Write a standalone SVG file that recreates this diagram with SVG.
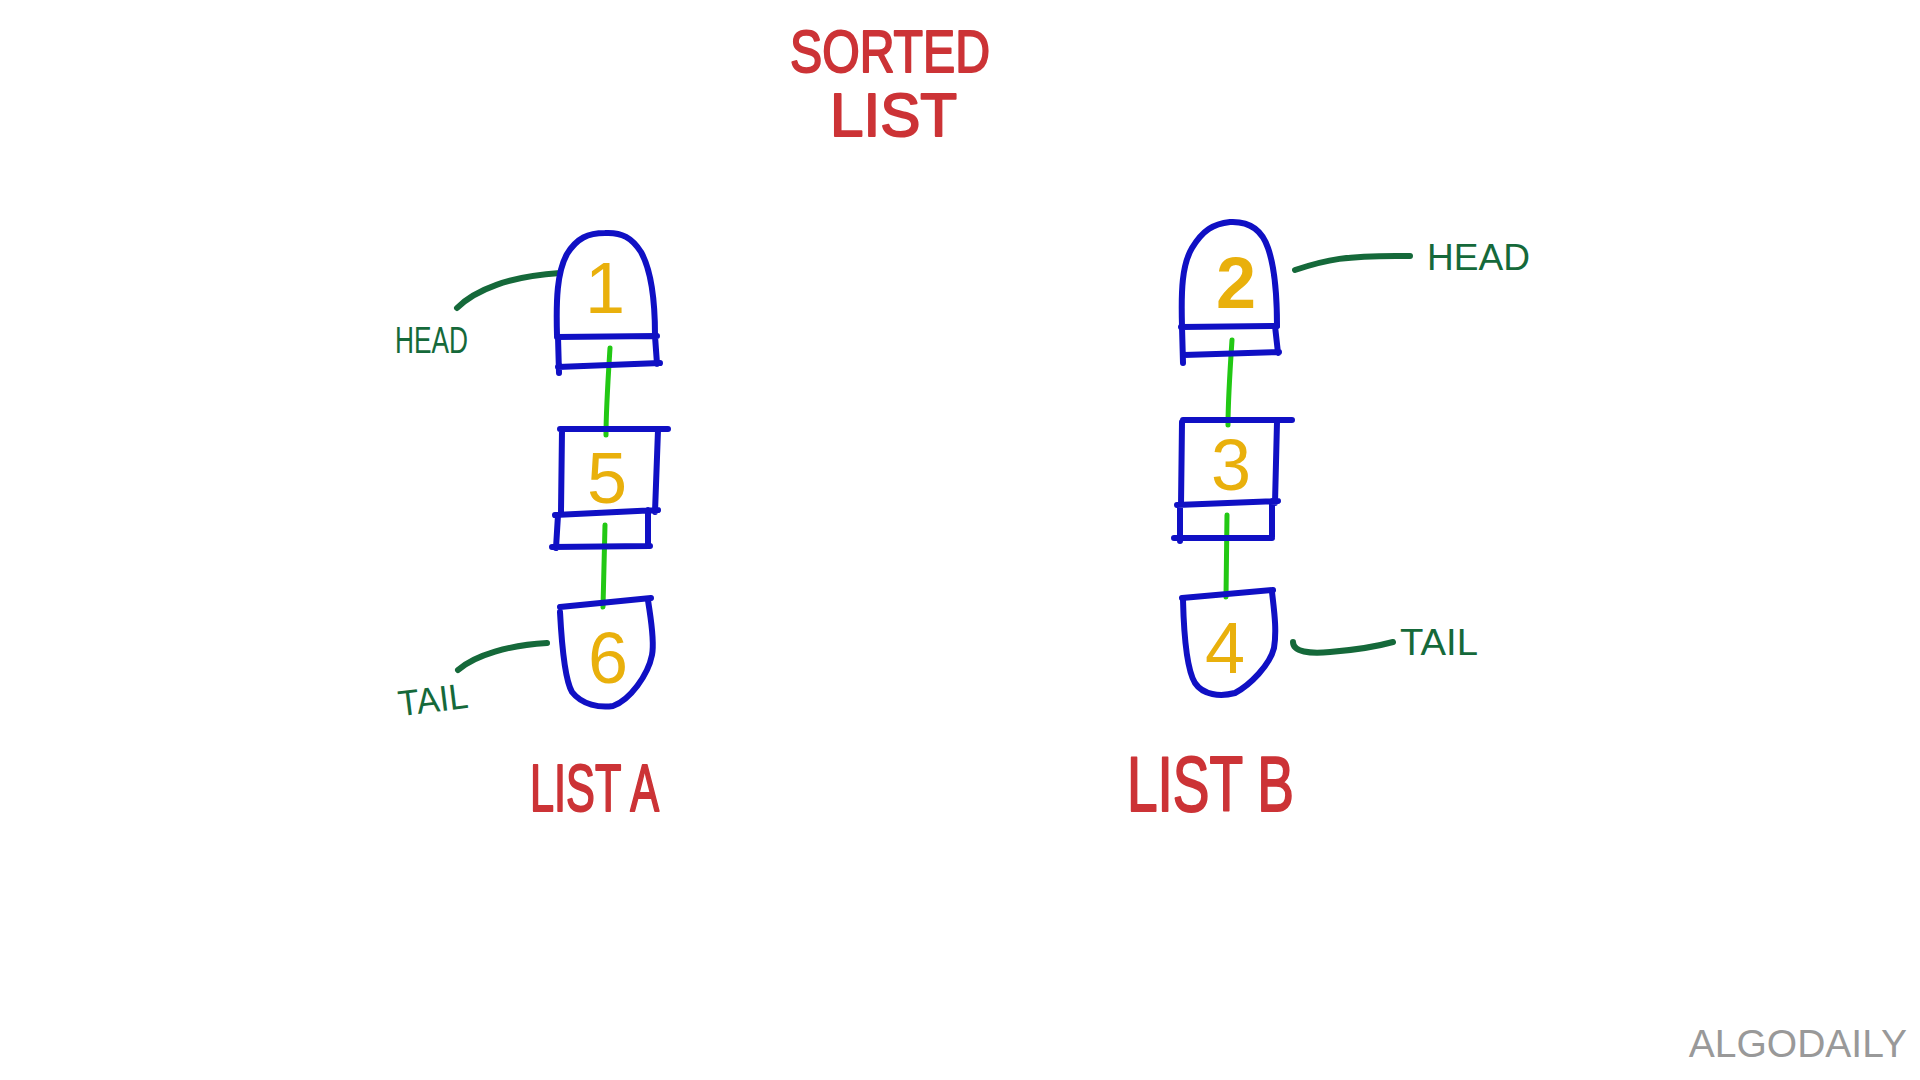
<svg xmlns="http://www.w3.org/2000/svg" width="1920" height="1080" viewBox="0 0 1920 1080">
<style>
.node{fill:none;stroke:#1010C4;stroke-width:6;stroke-linecap:round;stroke-linejoin:round}
.link{fill:none;stroke:#22C814;stroke-width:5;stroke-linecap:round}
.lead{fill:none;stroke:#15693A;stroke-width:6;stroke-linecap:round}
.num{font-family:"Liberation Sans",Arial,sans-serif;fill:#E9B00C;font-size:72px;text-anchor:middle}
.green{font-family:"Liberation Sans",Arial,sans-serif;fill:#15693A;font-size:36px}
.red{font-family:"Liberation Sans",Arial,sans-serif;fill:#CC3336;stroke:#CC3336;stroke-width:2;stroke-linejoin:round}
.logo{font-family:"Liberation Sans",Arial,sans-serif;fill:#999999;font-size:39px;text-anchor:end}
</style>
<rect width="1920" height="1080" fill="#ffffff"/>
<g id="title">
<text class="red" x="790" y="72" font-size="60" textLength="200" lengthAdjust="spacingAndGlyphs">SORTED</text>
<text class="red" x="830" y="136" font-size="62" textLength="127" lengthAdjust="spacingAndGlyphs">LIST</text>
</g>
<g id="connectors">
<path class="link" d="M610,348 C608,380 606,410 606,435"/>
<path class="link" d="M605,525 L603,607"/>
<path class="link" d="M1232,340 C1230,370 1228,400 1228,425"/>
<path class="link" d="M1227,515 L1226,597"/>
<path class="lead" d="M457,308 C475,290 510,276 560,273"/>
<path class="lead" d="M458,670 C475,655 510,645 547,643"/>
<path class="lead" d="M1295,270 C1325,260 1345,255 1410,256"/>
<path class="lead" d="M1293,642 C1293,652 1310,654 1330,652 C1355,650 1375,647 1393,642"/>
</g>
<g id="nodeA1">
<path class="node" d="M557,335 C556,300 557,272 567,254 C577,238 588,233 605,233 C622,232 632,238 641,252 C651,270 655,300 655,335"/>
<path class="node" d="M557,337 L657,336 M558,337 L559,373 M655,336 L657,364 M558,367 L660,363"/>
<text class="num" x="605" y="313">1</text>
</g>
<g id="nodeA5">
<path class="node" d="M560,429 L668,429 M562,430 L561,512 M658,430 L655,512 M555,515 L658,510 M558,515 L556,548 M648,510 L648,546 M552,547 L650,546"/>
<text class="num" x="607" y="503">5</text>
</g>
<g id="nodeA6">
<path class="node" d="M560,607 L651,598"/>
<path class="node" d="M560,612 C562,650 565,680 572,692 C582,705 600,708 613,706 C630,700 648,675 652,655 C655,640 650,615 648,600"/>
<text class="num" x="608" y="683">6</text>
</g>
<g id="nodeB2">
<path class="node" d="M1182,326 C1181,290 1182,265 1192,248 C1203,230 1213,224 1230,222 C1250,221 1262,230 1268,248 C1275,268 1277,300 1277,326"/>
<path class="node" d="M1181,327 L1277,326 M1182,327 L1183,363 M1275,326 L1278,353 M1184,355 L1279,352"/>
<text class="num" x="1236" y="308" font-weight="bold">2</text>
</g>
<g id="nodeB3">
<path class="node" d="M1183,420 L1292,420 M1182,422 L1181,505 M1277,422 L1275,503 M1177,505 L1278,501 M1180,505 L1180,541 M1272,501 L1272,537 M1174,538 L1272,538"/>
<text class="num" x="1231" y="490">3</text>
</g>
<g id="nodeB4">
<path class="node" d="M1182,598 L1273,590"/>
<path class="node" d="M1183,600 C1184,640 1187,670 1195,683 C1203,695 1220,697 1235,693 C1250,685 1270,665 1274,648 C1277,630 1274,610 1272,592"/>
<text class="num" x="1225" y="673">4</text>
</g>
<g id="labels">
<text class="green" x="395" y="353" textLength="73" lengthAdjust="spacingAndGlyphs">HEAD</text>
<text class="green" x="398" y="712" font-size="32" textLength="70" lengthAdjust="spacingAndGlyphs" transform="rotate(-7 433 700)">TAIL</text>
<text class="green" x="1427" y="270" font-size="37" textLength="103" lengthAdjust="spacingAndGlyphs">HEAD</text>
<text class="green" x="1400" y="655" font-size="38" textLength="78" lengthAdjust="spacingAndGlyphs">TAIL</text>
<text class="red" x="530" y="811" font-size="66" textLength="129" lengthAdjust="spacingAndGlyphs">LIST A</text>
<text class="red" x="1127" y="811" font-size="78" textLength="167" lengthAdjust="spacingAndGlyphs">LIST B</text>
</g>
<text class="logo" x="1907" y="1057">ALGODAILY</text>
</svg>
